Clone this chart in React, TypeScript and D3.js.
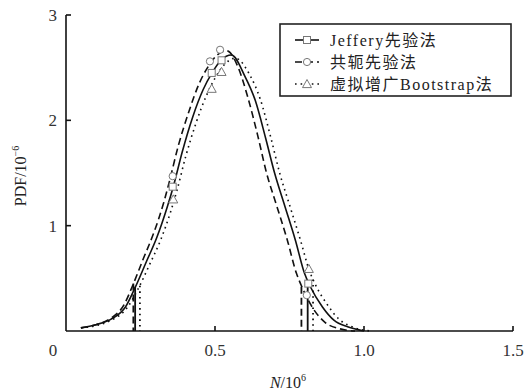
import React from "react";
import * as d3 from "d3";

// Data (N in 10^6, PDF in 10^-6)
const jefferyCurve: [number, number][] = [
  [0.05, 0.03], [0.1, 0.06], [0.15, 0.11], [0.2, 0.23], [0.23, 0.4], [0.27, 0.66],
  [0.305, 0.89], [0.34, 1.18], [0.36, 1.37], [0.39, 1.7], [0.425, 2.03], [0.46, 2.29],
  [0.49, 2.45], [0.52, 2.57], [0.555, 2.62], [0.6, 2.42], [0.635, 2.19], [0.67, 1.83],
  [0.7, 1.5], [0.735, 1.18], [0.77, 0.86], [0.8, 0.55], [0.82, 0.42], [0.86, 0.23],
  [0.9, 0.1], [0.945, 0.04], [1.0, 0.0],
];
const conjugateCurve: [number, number][] = [
  [0.05, 0.03], [0.1, 0.06], [0.15, 0.12], [0.195, 0.25], [0.222, 0.42], [0.26, 0.69],
  [0.293, 0.92], [0.327, 1.21], [0.347, 1.42], [0.377, 1.76], [0.412, 2.08], [0.447, 2.35],
  [0.477, 2.51], [0.507, 2.62], [0.54, 2.66], [0.578, 2.5], [0.61, 2.22], [0.643, 1.86],
  [0.673, 1.5], [0.708, 1.18], [0.743, 0.86], [0.773, 0.55], [0.79, 0.43], [0.83, 0.21],
  [0.87, 0.08], [0.92, 0.02], [0.97, 0.0],
];
const bootstrapCurve: [number, number][] = [
  [0.05, 0.03], [0.1, 0.05], [0.15, 0.1], [0.205, 0.22], [0.242, 0.4], [0.282, 0.64],
  [0.317, 0.86], [0.352, 1.14], [0.372, 1.33], [0.402, 1.66], [0.437, 1.98], [0.472, 2.24],
  [0.502, 2.41], [0.532, 2.53], [0.568, 2.59], [0.617, 2.43], [0.652, 2.2], [0.687, 1.84],
  [0.717, 1.5], [0.752, 1.18], [0.787, 0.86], [0.817, 0.57], [0.837, 0.44], [0.877, 0.25],
  [0.917, 0.11], [0.96, 0.04], [1.02, 0.0],
];

const jefferyMarkers: [number, number][] = [[0.358, 1.37], [0.489, 2.45], [0.522, 2.57], [0.813, 0.45]];
const conjugateMarkers: [number, number][] = [[0.358, 1.47], [0.483, 2.56], [0.517, 2.67], [0.808, 0.34]];
const bootstrapMarkers: [number, number][] = [[0.36, 1.25], [0.489, 2.3], [0.522, 2.46], [0.815, 0.59]];

const jefferyBounds: [number, number][] = [[0.232, 0.42], [0.811, 0.47]];
const conjugateBounds: [number, number][] = [[0.226, 0.45], [0.79, 0.42]];
const bootstrapBounds: [number, number][] = [[0.248, 0.43], [0.829, 0.49]];

const xTicks = [0.5, 1.0, 1.5];
const xTickLabels = ["0.5", "1.0", "1.5"];
const yTicks = [1, 2, 3];
const yTickLabels = ["1", "2", "3"];
const legendLabels = ["Jeffery先验法", "共轭先验法", "虚拟增广Bootstrap法"];

const W = 524;
const H = 392;
const x = d3.scaleLinear().domain([0, 1.5]).range([66, 513]);
const y = d3.scaleLinear().domain([0, 3]).range([331, 15]);

const line = d3
  .line<[number, number]>()
  .x((d) => x(d[0]))
  .y((d) => y(d[1]))
  .curve(d3.curveMonotoneX);

const FONT = "'Liberation Serif', 'Noto Sans CJK SC', serif";
const INK = "#111";
const MARK = "#777";

type Kind = "square" | "circle" | "triangle";

function Marker({ cx, cy, kind }: { cx: number; cy: number; kind: Kind }) {
  if (kind === "square")
    return <rect x={cx - 3.5} y={cy - 3.5} width={7} height={7} fill="#fff" stroke={MARK} strokeWidth={1} />;
  if (kind === "circle")
    return <circle cx={cx} cy={cy} r={3.6} fill="#fff" stroke={MARK} strokeWidth={1} />;
  const s = 4.5;
  return (
    <path
      d={`M${cx},${cy - s} L${cx + s},${cy + s * 0.8} L${cx - s},${cy + s * 0.8} Z`}
      fill="#fff"
      stroke={MARK}
      strokeWidth={1}
    />
  );
}

const series = [
  { curve: jefferyCurve, markers: jefferyMarkers, bounds: jefferyBounds, dash: "none", kind: "square" as Kind },
  { curve: conjugateCurve, markers: conjugateMarkers, bounds: conjugateBounds, dash: "7,4", kind: "circle" as Kind },
  { curve: bootstrapCurve, markers: bootstrapMarkers, bounds: bootstrapBounds, dash: "1.6,4", kind: "triangle" as Kind },
];

export default function App() {
  return (
    <svg
      width={W}
      height={H}
      viewBox={`0 0 ${W} ${H}`}
      style={{ position: "absolute", left: 0, top: 0, background: "#fff" }}
    >
      {/* curves */}
      {series.map((s, i) => (
        <g key={i}>
          <path d={line(s.curve) || ""} fill="none" stroke={INK} strokeWidth={1.6} strokeDasharray={s.dash} />
          {s.bounds.map((b, j) => (
            <line
              key={j}
              x1={x(b[0])}
              x2={x(b[0])}
              y1={y(b[1])}
              y2={y(0)}
              stroke={INK}
              strokeWidth={1.8}
              strokeDasharray={s.dash}
            />
          ))}
        </g>
      ))}
      {series.map((s, i) => (
        <g key={"m" + i}>
          {s.markers.map((m, j) => (
            <Marker key={j} cx={x(m[0])} cy={y(m[1])} kind={s.kind} />
          ))}
        </g>
      ))}

      {/* axes */}
      <line x1={x(0)} x2={x(1.5)} y1={y(0)} y2={y(0)} stroke={INK} strokeWidth={1.6} />
      <line x1={x(0)} x2={x(0)} y1={y(0)} y2={y(3)} stroke={INK} strokeWidth={1.6} />
      {xTicks.map((t, i) => (
        <g key={"xt" + i}>
          <line x1={x(t)} x2={x(t)} y1={y(0)} y2={y(0) - 5} stroke={INK} strokeWidth={1.6} />
          <text x={x(t)} y={356} textAnchor="middle" fontFamily={FONT} fontSize={17} fill="#333">
            {xTickLabels[i]}
          </text>
        </g>
      ))}
      {yTicks.map((t, i) => (
        <g key={"yt" + i}>
          <line x1={x(0)} x2={x(0) + 5} y1={y(t)} y2={y(t)} stroke={INK} strokeWidth={1.6} />
          <text x={57} y={y(t)} dy="0.35em" textAnchor="end" fontFamily={FONT} fontSize={17} fill="#333">
            {yTickLabels[i]}
          </text>
        </g>
      ))}
      <text x={53} y={356} textAnchor="middle" fontFamily={FONT} fontSize={17} fill="#333">
        0
      </text>

      {/* axis titles */}
      <text x={288} y={388} textAnchor="middle" fontFamily={FONT} fontSize={16} fill="#222">
        <tspan fontStyle="italic">N</tspan>
        <tspan>/10</tspan>
        <tspan fontSize={10} dy={-7}>6</tspan>
      </text>
      <text
        transform="translate(26,176) rotate(-90)"
        textAnchor="middle"
        fontFamily={FONT}
        fontSize={16}
        fill="#222"
      >
        <tspan>PDF/10</tspan>
        <tspan fontSize={10} dy={-7}>−6</tspan>
      </text>

      {/* legend */}
      <rect x={280} y={24} width={231} height={72} fill="#fff" stroke="#222" strokeWidth={1.6} />
      {series.map((s, i) => {
        const cy = 40 + i * 22;
        return (
          <g key={"lg" + i}>
            <line x1={295} x2={319} y1={cy} y2={cy} stroke={INK} strokeWidth={1.6} strokeDasharray={s.dash} />
            <Marker cx={307} cy={cy} kind={s.kind} />
            <text
              x={330}
              y={cy}
              dy="0.36em"
              fontFamily={FONT}
              fontSize={16}
              letterSpacing={1.5}
              fill="#222"
            >
              {legendLabels[i]}
            </text>
          </g>
        );
      })}
    </svg>
  );
}
